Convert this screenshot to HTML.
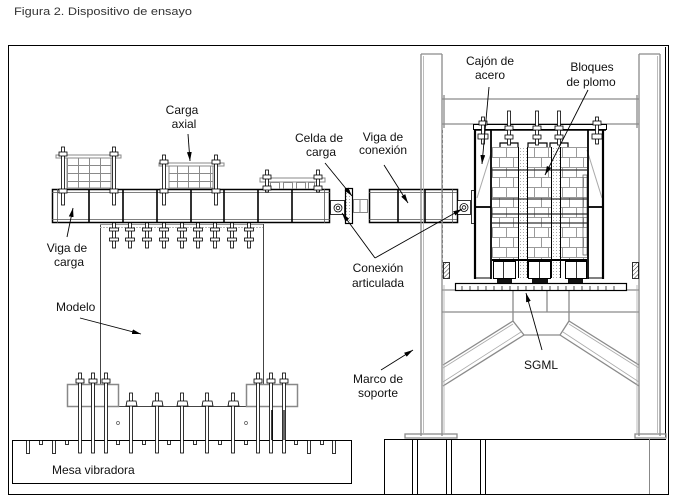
<!DOCTYPE html>
<html><head><meta charset="utf-8">
<style>
html,body{margin:0;padding:0;background:#fff;}
svg{display:block;}
text{font-family:"Liberation Sans",Arial,sans-serif;font-size:12px;fill:#111;}
</style></head><body>
<svg width="676" height="499" viewBox="0 0 676 499" xmlns="http://www.w3.org/2000/svg">
<defs>
<marker id="ar" markerWidth="10" markerHeight="6" refX="9" refY="3" orient="auto" markerUnits="userSpaceOnUse">
<path d="M0,0.6 L9,3 L0,5.4 z" fill="#000"/>
</marker>
<pattern id="brick" width="14" height="20" patternUnits="userSpaceOnUse" x="492" y="147">
<path d="M0,0.5H14 M0,10.5H14 M0.5,0V10 M7.5,10V20" stroke="#9a9a9a" stroke-width="1" fill="none"/>
</pattern>
<pattern id="brick2" width="11" height="8" patternUnits="userSpaceOnUse" x="67" y="157">
<path d="M0,0.5H11 M0.5,0V8" stroke="#8a8a8a" stroke-width="1" fill="none"/>
</pattern>
<pattern id="hatch" width="3" height="3" patternUnits="userSpaceOnUse" patternTransform="rotate(45)">
<line x1="0" y1="0" x2="0" y2="3" stroke="#000" stroke-width="0.8"/>
</pattern>
<pattern id="dots" width="3" height="3" patternUnits="userSpaceOnUse">
<rect x="1" y="1" width="1" height="1" fill="#aaa"/>
</pattern>
</defs>
<rect width="676" height="499" fill="#fff"/>

<text x="14" y="15" style="font-size:11px;fill:#333" textLength="178" lengthAdjust="spacingAndGlyphs">Figura 2. Dispositivo de ensayo</text>

<rect x="8.5" y="45.5" width="660" height="449" fill="none" stroke="#000"/>
<line x1="665.5" y1="47" x2="665.5" y2="437" stroke="#000"/>

<!-- shake table -->
<rect x="12.5" y="440.5" width="339" height="43" fill="none" stroke="#000"/>
<g fill="#fff" stroke="#000" stroke-width="0.8">
<rect x="26.5" y="440.5" width="3" height="13"/>
<rect x="52.5" y="440.5" width="3" height="13"/>
<rect x="307.5" y="440.5" width="3" height="13"/>
<rect x="332.5" y="440.5" width="3" height="13"/>
<rect x="39.5" y="440.5" width="3" height="4"/>
<rect x="65.5" y="440.5" width="3" height="4"/>
<rect x="116.5" y="440.5" width="3" height="4"/>
<rect x="142.5" y="440.5" width="3" height="4"/>
<rect x="167.5" y="440.5" width="3" height="4"/>
<rect x="193.5" y="440.5" width="3" height="4"/>
<rect x="218.5" y="440.5" width="3" height="4"/>
<rect x="244.5" y="440.5" width="3" height="4"/>
<rect x="294.5" y="440.5" width="3" height="4"/>
<rect x="320.5" y="440.5" width="3" height="4"/>
</g>
<text x="52" y="474">Mesa vibradora</text>

<line x1="100.5" y1="224" x2="100.5" y2="384" stroke="#444" stroke-width="1"/>
<line x1="263.5" y1="224" x2="263.5" y2="384" stroke="#444" stroke-width="1"/>
<line x1="118" y1="406.5" x2="246" y2="406.5" stroke="#444" stroke-width="1"/>
<rect x="67.5" y="384.5" width="51" height="22" fill="none" stroke="#888" stroke-width="1.5"/>
<rect x="246.5" y="384.5" width="51" height="22" fill="none" stroke="#888" stroke-width="1.5"/>
<rect x="91" y="384.5" width="4" height="22" fill="#999"/>
<rect x="269" y="384.5" width="4" height="22" fill="#999"/>
<circle cx="118" cy="423" r="1.5" fill="none" stroke="#555" stroke-width="0.7"/>
<circle cx="246" cy="423" r="1.5" fill="none" stroke="#555" stroke-width="0.7"/>

<g fill="#fff" stroke="#000" stroke-width="0.8">
<rect x="78.5" y="373" width="3" height="80"/><rect x="76" y="379" width="8" height="4"/>
<rect x="91.5" y="373" width="3" height="80"/><rect x="89" y="379" width="8" height="4"/>
<rect x="104.5" y="373" width="3" height="80"/><rect x="102" y="379" width="8" height="4"/>
<rect x="256.5" y="373" width="3" height="80"/><rect x="254" y="379" width="8" height="4"/>
<rect x="269.5" y="373" width="3" height="80"/><rect x="267" y="379" width="8" height="4"/>
<rect x="282.5" y="373" width="3" height="80"/><rect x="280" y="379" width="8" height="4"/>
</g>
<g fill="#fff" stroke="#000" stroke-width="0.8">
<rect x="129.5" y="393" width="3" height="60"/><path d="M126,406 L127,401 L136,401 L137,406 Z"/>
<rect x="155.5" y="393" width="3" height="60"/><path d="M152,406 L153,401 L162,401 L163,406 Z"/>
<rect x="180.5" y="393" width="3" height="60"/><path d="M177,406 L178,401 L187,401 L188,406 Z"/>
<rect x="205.5" y="393" width="3" height="60"/><path d="M202,406 L203,401 L212,401 L213,406 Z"/>
<rect x="231.5" y="393" width="3" height="60"/><path d="M228,406 L229,401 L238,401 L239,406 Z"/>
</g>
<line x1="272" y1="410" x2="272" y2="440" stroke="#000" stroke-width="1.5"/>
<line x1="284" y1="410" x2="284" y2="440" stroke="#000" stroke-width="1.2"/>

<line x1="100" y1="224.5" x2="263" y2="224.5" stroke="#999" stroke-width="1"/>
<line x1="100" y1="227.5" x2="263" y2="227.5" stroke="#bbb" stroke-width="1" stroke-dasharray="2,1"/>
<g fill="#fff" stroke="#000" stroke-width="0.8">
<g id="ub">
<rect x="112.5" y="215" width="3" height="33"/>
<path d="M109.5,222 L112,214.5 L116,214.5 L118.5,222 Z"/>
<rect x="109.5" y="228" width="9" height="3"/>
<rect x="109.5" y="238" width="9" height="3"/>
</g>
<use href="#ub" x="16"/><use href="#ub" x="33"/><use href="#ub" x="50"/><use href="#ub" x="68"/>
<use href="#ub" x="84"/><use href="#ub" x="101"/><use href="#ub" x="118"/><use href="#ub" x="135"/>
</g>

<!-- load beam -->
<rect x="52.5" y="189.5" width="277" height="33" fill="#fff" stroke="#000" stroke-width="1.5"/>
<line x1="52" y1="192.5" x2="330" y2="192.5" stroke="#555" stroke-width="0.8"/>
<line x1="52" y1="219.5" x2="330" y2="219.5" stroke="#555" stroke-width="0.8"/>
<line x1="57.5" y1="189" x2="57.5" y2="223" stroke="#555" stroke-width="0.8"/>
<line x1="324.5" y1="189" x2="324.5" y2="223" stroke="#555" stroke-width="0.8"/>
<g stroke="#000" stroke-width="1.6">
<line x1="89" y1="190" x2="89" y2="222"/><line x1="123" y1="190" x2="123" y2="222"/>
<line x1="157" y1="190" x2="157" y2="222"/><line x1="191" y1="190" x2="191" y2="222"/>
<line x1="224" y1="190" x2="224" y2="222"/><line x1="258" y1="190" x2="258" y2="222"/>
<line x1="292" y1="190" x2="292" y2="222"/>
</g>

<!-- load packs -->
<rect x="67" y="157" width="44" height="31" fill="url(#brick2)" stroke="#888"/>
<rect x="56" y="155" width="65" height="3" fill="#fff" stroke="#888"/>
<rect x="169" y="166" width="44" height="22" fill="url(#brick2)" stroke="#888"/>
<rect x="159" y="163" width="65" height="3" fill="#fff" stroke="#888"/>
<g fill="none" stroke="#888" stroke-width="1">
<path d="M270.5,189 V182.5 H279.5 V189"/><path d="M283.5,189 V182.5 H292.5 V189"/>
<path d="M296.5,189 V182.5 H305.5 V189"/><path d="M308.5,189 V182.5 H314.5 V189"/>
</g>
<rect x="260" y="178" width="65" height="4" fill="#fff" stroke="#888"/>
<g fill="#fff" stroke="#000" stroke-width="0.8">
<rect x="61.5" y="147" width="3" height="58"/><rect x="59" y="152" width="8" height="4"/><rect x="59" y="189" width="8" height="4"/>
<rect x="112.5" y="147" width="3" height="58"/><rect x="110" y="152" width="8" height="4"/><rect x="110" y="189" width="8" height="4"/>
<rect x="162.5" y="155" width="3" height="50"/><rect x="160" y="160" width="8" height="4"/><rect x="160" y="189" width="8" height="4"/>
<rect x="214.5" y="155" width="3" height="50"/><rect x="212" y="160" width="8" height="4"/><rect x="212" y="189" width="8" height="4"/>
<rect x="265.5" y="170" width="3" height="22"/><rect x="263" y="175" width="8" height="4"/><rect x="263" y="186" width="8" height="4"/>
<rect x="316.5" y="170" width="3" height="22"/><rect x="314" y="175" width="8" height="4"/><rect x="314" y="186" width="8" height="4"/>
</g>

<!-- connectors -->
<rect x="330.5" y="200.5" width="14" height="14" fill="#fff" stroke="#000" stroke-width="0.8"/>
<circle cx="338" cy="208" r="4" fill="none" stroke="#000" stroke-width="0.8"/>
<circle cx="338" cy="208" r="1.8" fill="none" stroke="#000" stroke-width="0.8"/>
<rect x="345.5" y="188.5" width="7" height="35" fill="url(#dots)" stroke="#000" stroke-width="1.2"/>
<rect x="353.5" y="199.5" width="14" height="13" fill="#fff" stroke="#888" stroke-width="1"/>
<line x1="360" y1="199" x2="360" y2="213" stroke="#888"/>
<rect x="369.5" y="189.5" width="88" height="33" fill="#fff" stroke="#000" stroke-width="1.5"/>
<line x1="369" y1="192.5" x2="457" y2="192.5" stroke="#555" stroke-width="0.8"/>
<line x1="369" y1="219.5" x2="457" y2="219.5" stroke="#555" stroke-width="0.8"/>
<line x1="452.5" y1="189" x2="452.5" y2="223" stroke="#555" stroke-width="0.8"/>
<line x1="398" y1="190" x2="398" y2="222" stroke="#000" stroke-width="1.6"/>
<line x1="425" y1="190" x2="425" y2="222" stroke="#000" stroke-width="1.6"/>
<rect x="457.5" y="200.5" width="13" height="14" fill="#fff" stroke="#000" stroke-width="0.8"/>
<circle cx="464" cy="207.5" r="4" fill="none" stroke="#000" stroke-width="0.8"/>
<circle cx="464" cy="207.5" r="1.8" fill="none" stroke="#000" stroke-width="0.8"/>
<rect x="471.5" y="190.5" width="3" height="33" fill="#fff" stroke="#000" stroke-width="0.8"/>

<!-- support frame -->
<g fill="none" stroke="#8a8a8a" stroke-width="1.3">
<line x1="421" y1="54" x2="421" y2="436"/><line x1="442" y1="54" x2="442" y2="436"/>
<line x1="421" y1="54" x2="442" y2="54"/>
<line x1="639" y1="54" x2="639" y2="436"/><line x1="660" y1="54" x2="660" y2="436"/>
<line x1="639" y1="54" x2="660" y2="54"/>
<line x1="442" y1="99" x2="639" y2="99"/><line x1="442" y1="124" x2="639" y2="124"/>
<line x1="444" y1="95" x2="444" y2="128"/><line x1="637" y1="95" x2="637" y2="128"/>
<line x1="442" y1="290" x2="639" y2="290"/><line x1="442" y1="312" x2="639" y2="312"/>
<line x1="513" y1="290" x2="513" y2="312"/><line x1="547" y1="290" x2="547" y2="312"/><line x1="569" y1="290" x2="569" y2="312"/>
<path d="M513,312 L513,321 L524,335 L560,335 L569,321 L569,312"/>
<line x1="513" y1="321" x2="443" y2="365"/><line x1="524" y1="335" x2="443" y2="386"/>
<line x1="569" y1="321" x2="639" y2="365"/><line x1="560" y1="335" x2="639" y2="386"/>
<rect x="405" y="434" width="52" height="4"/>
<rect x="635" y="434" width="31" height="4"/>
</g>
<g fill="none" stroke="#aaa" stroke-width="0.8">
<line x1="513" y1="324" x2="443" y2="368"/><line x1="521" y1="332" x2="443" y2="382"/>
<line x1="569" y1="324" x2="639" y2="368"/><line x1="563" y1="332" x2="639" y2="382"/>
<line x1="444" y1="285" x2="444" y2="433"/><line x1="637" y1="285" x2="637" y2="433"/>
<line x1="423.5" y1="56" x2="423.5" y2="433"/><line x1="657.5" y1="56" x2="657.5" y2="433"/>
</g>
<line x1="442.5" y1="130" x2="442.5" y2="280" stroke="#777" stroke-width="0.8" stroke-dasharray="3,2"/>

<!-- foundation -->
<g fill="none" stroke="#000" stroke-width="1">
<line x1="384.5" y1="439" x2="384.5" y2="494"/>
<line x1="384" y1="439.5" x2="666" y2="439.5"/>
<line x1="412.5" y1="439" x2="412.5" y2="494"/><line x1="417.5" y1="439" x2="417.5" y2="494"/>
<line x1="446.5" y1="439" x2="446.5" y2="494"/><line x1="451.5" y1="439" x2="451.5" y2="494"/>
<line x1="480.5" y1="439" x2="480.5" y2="494"/><line x1="485.5" y1="439" x2="485.5" y2="494"/>
</g>
<line x1="649.5" y1="439" x2="649.5" y2="494" stroke="#888"/>

<rect x="443.5" y="262.5" width="6" height="16" fill="url(#hatch)" stroke="#000" stroke-width="0.8"/>
<rect x="632.5" y="262.5" width="6" height="16" fill="url(#hatch)" stroke="#000" stroke-width="0.8"/>

<!-- SGML platform -->
<rect x="455.5" y="283.5" width="171" height="7" fill="#fff" stroke="#000" stroke-width="1.2"/>
<path d="M462,286V290 M470,286V290 M478,286V290 M486,286V290 M494,286V290 M502,286V290 M510,286V290 M518,286V290 M526,286V290 M534,286V290 M542,286V290 M550,286V290 M558,286V290 M566,286V290 M574,286V290 M582,286V290 M590,286V290 M598,286V290 M606,286V290 M614,286V290" stroke="#000" stroke-width="0.7"/>

<!-- steel box -->
<line x1="492" y1="150" x2="477" y2="198" stroke="#aaa" stroke-width="1"/>
<line x1="587" y1="150" x2="602" y2="198" stroke="#aaa" stroke-width="1"/>
<rect x="492" y="147" width="27" height="113" fill="url(#brick)"/>
<rect x="527" y="147" width="25" height="113" fill="url(#brick)"/>
<rect x="560" y="147" width="27" height="113" fill="url(#brick)"/>
<rect x="519" y="147" width="8" height="131" fill="url(#dots)"/>
<rect x="552" y="147" width="8" height="131" fill="url(#dots)"/>
<rect x="583" y="175" width="4" height="80" fill="none" stroke="#555" stroke-width="0.7"/>
<g stroke="#333" stroke-width="1.2">
<line x1="492" y1="170" x2="587" y2="170"/><line x1="492" y1="199" x2="587" y2="199"/>
<line x1="492" y1="214" x2="587" y2="214"/><line x1="492" y1="223" x2="587" y2="223"/>
</g>
<line x1="492" y1="260" x2="587" y2="260" stroke="#000" stroke-width="2"/>
<g stroke="#000" stroke-width="1">
<line x1="518.5" y1="147" x2="518.5" y2="278"/><line x1="527.5" y1="147" x2="527.5" y2="278"/>
<line x1="551.5" y1="147" x2="551.5" y2="278"/><line x1="560.5" y1="147" x2="560.5" y2="278"/>
</g>
<rect x="473.5" y="124.5" width="133" height="5" fill="#fff" stroke="#000" stroke-width="1"/>
<line x1="475" y1="130" x2="606" y2="130" stroke="#000" stroke-width="1.5"/>
<g stroke="#000">
<line x1="475" y1="130" x2="475" y2="279" stroke-width="2.2"/>
<line x1="603" y1="130" x2="603" y2="279" stroke-width="2.2"/>
<line x1="491" y1="130" x2="491" y2="279" stroke-width="1.8"/>
<line x1="588" y1="130" x2="588" y2="279" stroke-width="1.8"/>
<line x1="475" y1="207" x2="491" y2="207" stroke-width="1.8"/>
<line x1="588" y1="207" x2="603" y2="207" stroke-width="1.8"/>
<line x1="475" y1="278" x2="491" y2="278" stroke-width="1"/>
<line x1="588" y1="278" x2="603" y2="278" stroke-width="1"/>
</g>
<g fill="#fff" stroke="#000" stroke-width="1">
<rect x="493.5" y="261.5" width="22" height="17"/>
<rect x="528.5" y="261.5" width="22" height="17"/>
<rect x="565.5" y="261.5" width="21" height="17"/>
</g>
<g stroke="#000" stroke-width="0.8">
<line x1="503.5" y1="261" x2="503.5" y2="278"/><line x1="539.5" y1="261" x2="539.5" y2="278"/><line x1="576.5" y1="261" x2="576.5" y2="278"/>
</g>
<g fill="#111">
<rect x="497" y="279" width="15" height="4"/><rect x="532" y="279" width="16" height="4"/><rect x="568" y="279" width="15" height="4"/>
</g>
<g fill="none" stroke="#000" stroke-width="1.2">
<path d="M500,147 V143 H518 V147"/><path d="M528,147 V143 H547 V147"/><path d="M550,147 V143 H568 V147"/>
</g>
<g fill="#fff" stroke="#000" stroke-width="0.8">
<rect x="507.5" y="111" width="3" height="34"/><rect x="505" y="126" width="8" height="4"/><rect x="505" y="135" width="8" height="4"/>
<rect x="535.5" y="111" width="3" height="34"/><rect x="533" y="126" width="8" height="4"/><rect x="533" y="135" width="8" height="4"/>
<rect x="557.5" y="111" width="3" height="34"/><rect x="555" y="126" width="8" height="4"/><rect x="555" y="135" width="8" height="4"/>
<rect x="481.5" y="117" width="3" height="27"/><rect x="479" y="121" width="8" height="4"/><rect x="478" y="134" width="10" height="5"/>
<rect x="595.5" y="117" width="3" height="27"/><rect x="593" y="121" width="8" height="4"/><rect x="592" y="134" width="10" height="5"/>
</g>

<!-- labels & leaders -->
<g stroke="#000" stroke-width="0.9" marker-end="url(#ar)" fill="none">
<line x1="188" y1="134" x2="190" y2="161"/>
<line x1="325" y1="163" x2="352" y2="196"/>
<line x1="384" y1="165" x2="408" y2="203"/>
<line x1="375" y1="258" x2="342" y2="213"/>
<line x1="375" y1="258" x2="462" y2="209"/>
<line x1="489" y1="87" x2="482" y2="164"/>
<line x1="588" y1="90" x2="545" y2="175"/>
<line x1="67" y1="237" x2="73" y2="208"/>
<line x1="80" y1="318" x2="141" y2="334"/>
<line x1="542" y1="350" x2="526" y2="293"/>
<line x1="381" y1="370" x2="413" y2="350"/>
</g>
<g text-anchor="middle">
<text x="182" y="114">Carga</text>
<text x="184" y="128">axial</text>
<text x="319" y="142">Celda de</text>
<text x="321" y="156">carga</text>
<text x="383" y="141">Viga de</text>
<text x="383" y="154">conexión</text>
<text x="490" y="65">Cajón de</text>
<text x="490" y="79">acero</text>
<text x="592" y="71">Bloques</text>
<text x="591" y="86">de plomo</text>
<text x="67" y="252">Viga de</text>
<text x="69" y="266">carga</text>
<text x="378" y="272">Conexión</text>
<text x="378" y="287">articulada</text>
<text x="541" y="369">SGML</text>
<text x="378" y="383">Marco de</text>
<text x="378" y="397">soporte</text>
</g>
<text x="56" y="311">Modelo</text>
</svg>
</body></html>
